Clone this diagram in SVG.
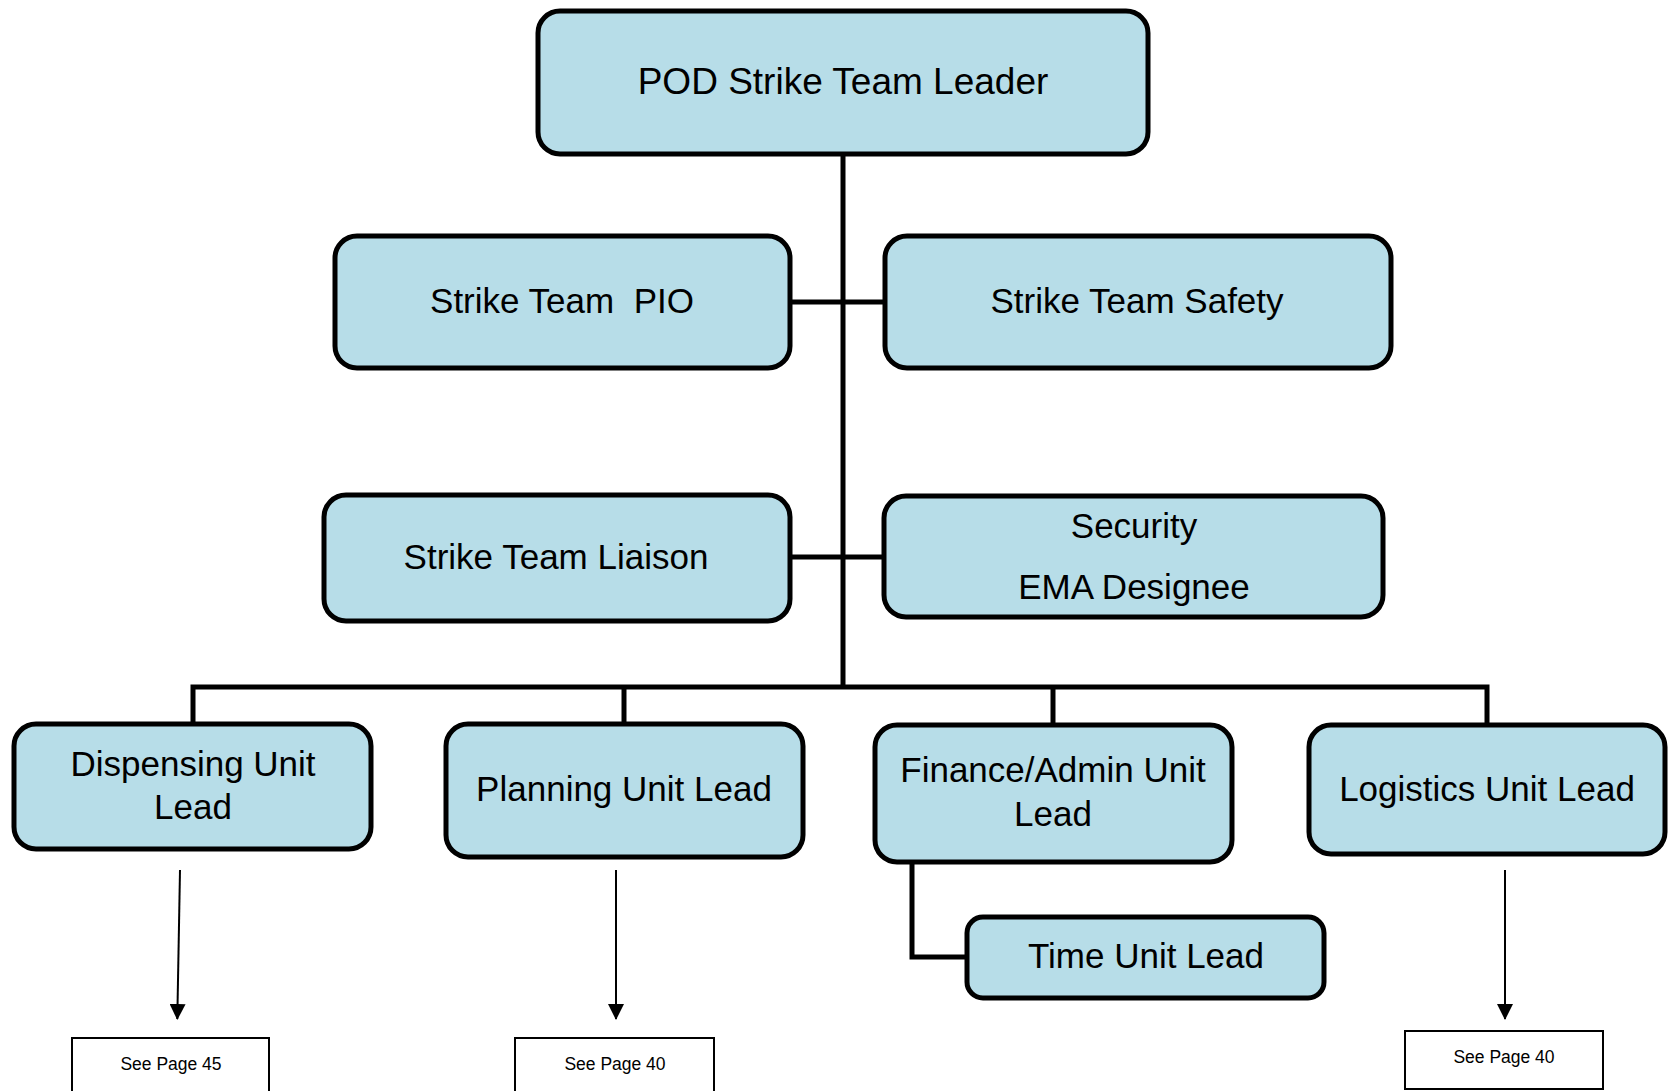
<svg xmlns="http://www.w3.org/2000/svg" width="1670" height="1091" viewBox="0 0 1670 1091">
<defs>
<style>
.box{fill:#b7dde8;stroke:#000;stroke-width:5}
.t{font-family:"Liberation Sans",Arial,sans-serif;font-size:35px;fill:#000;text-anchor:middle;white-space:pre}
.big{font-size:37px}
.ref{fill:#fff;stroke:#000;stroke-width:2}
.rt{font-family:"Liberation Sans",Arial,sans-serif;font-size:17.5px;fill:#000;text-anchor:middle}
.c{fill:none;stroke:#000;stroke-width:5}
.a{fill:none;stroke:#000;stroke-width:2}
</style>
<marker id="ah" markerWidth="16" markerHeight="16" viewBox="0 0 16 16" refX="15" refY="8" orient="auto" markerUnits="userSpaceOnUse">
<path d="M0,0 L16,8 L0,16 Z" fill="#000"/>
</marker>
</defs>
<rect width="1670" height="1091" fill="#fff"/>
<g id="connectors">
<path class="c" d="M843 154 V687"/>
<path class="c" d="M790 302 H885"/>
<path class="c" d="M790 557 H884"/>
<path class="c" d="M193 724 V687 H1487 V724"/>
<path class="c" d="M624 687 V724"/>
<path class="c" d="M1053 687 V725"/>
<path class="c" d="M912 862 V957 H967"/>
<path class="a" d="M180 870 L177.3 1019" marker-end="url(#ah)"/>
<path class="a" d="M616 870 L616 1019" marker-end="url(#ah)"/>
<path class="a" d="M1505 870 L1505 1019" marker-end="url(#ah)"/>
</g>
<g id="leader">
<rect class="box" x="538" y="11" width="610" height="143" rx="22"/>
<text class="t big" x="843" y="94">POD Strike Team Leader</text>
</g>
<g id="pio">
<rect class="box" x="335" y="236" width="455" height="132" rx="22"/>
<text class="t" x="562" y="313">Strike Team  PIO</text>
</g>
<g id="safety">
<rect class="box" x="885" y="236" width="506" height="132" rx="22"/>
<text class="t" x="1137" y="313">Strike Team Safety</text>
</g>
<g id="liaison">
<rect class="box" x="324" y="495" width="466" height="126" rx="22"/>
<text class="t" x="556" y="569">Strike Team Liaison</text>
</g>
<g id="security">
<rect class="box" x="884" y="496" width="499" height="121" rx="22"/>
<text class="t" x="1134" y="538">Security</text>
<text class="t" x="1134" y="599">EMA Designee</text>
</g>
<g id="dispensing">
<rect class="box" x="14" y="724" width="357" height="125" rx="22"/>
<text class="t" x="193" y="776">Dispensing Unit</text>
<text class="t" x="193" y="819">Lead</text>
</g>
<g id="planning">
<rect class="box" x="446" y="724" width="357" height="133" rx="22"/>
<text class="t" x="624" y="801">Planning Unit Lead</text>
</g>
<g id="finance">
<rect class="box" x="875" y="725" width="357" height="137" rx="22"/>
<text class="t" x="1053" y="782">Finance/Admin Unit</text>
<text class="t" x="1053" y="826">Lead</text>
</g>
<g id="logistics">
<rect class="box" x="1309" y="725" width="356" height="129" rx="22"/>
<text class="t" x="1487" y="801">Logistics Unit Lead</text>
</g>
<g id="time">
<rect class="box" x="967" y="917" width="357" height="81" rx="16"/>
<text class="t" x="1146" y="968">Time Unit Lead</text>
</g>
<g id="ref45">
<rect class="ref" x="72" y="1038" width="197" height="70"/>
<text class="rt" x="171" y="1070">See Page 45</text>
</g>
<g id="ref40a">
<rect class="ref" x="515" y="1038" width="199" height="70"/>
<text class="rt" x="615" y="1070">See Page 40</text>
</g>
<g id="ref40b">
<rect class="ref" x="1405" y="1031" width="198" height="58"/>
<text class="rt" x="1504" y="1063">See Page 40</text>
</g>
</svg>
